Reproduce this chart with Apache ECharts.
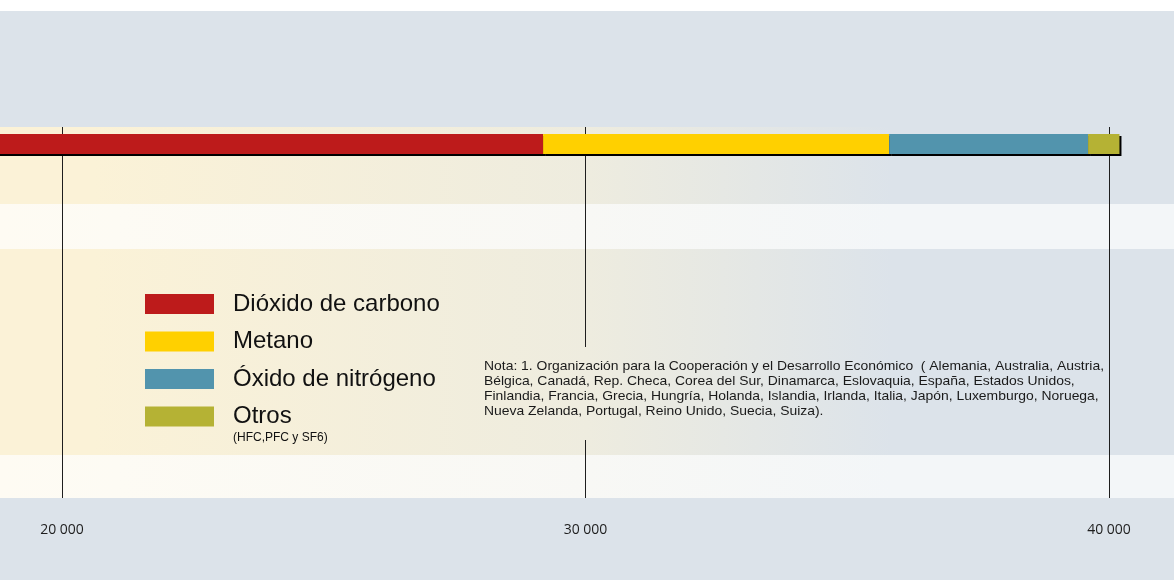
<!DOCTYPE html>
<html>
<head>
<meta charset="utf-8">
<script src="https://cdn.jsdelivr.net/npm/echarts@6/dist/echarts.min.js"></script>
<style>
  html, body { margin: 0; padding: 0; background: #fff; }
  #chart { width: 1174px; height: 580px; }
</style>
</head>
<body>
<div id="chart"></div>
<script>
// emisiones por gas (OCDE)
const categories = ['OCDE']
const seriesNames = ['Dióxido de carbono', 'Metano', 'Óxido de nitrógeno', 'Otros']
const dioxido = [29190]
const metano = [6610]
const oxido = [3800]
const otros = [600]
const colors = ['#bd1b1b', '#ffd000', '#5294ad', '#b5b234']
const axisMin = 10000
const axisMax = 50000
const tickStep = 10000

const nota = [
  'Nota: 1. Organización para la Cooperación y el Desarrollo Económico  ( Alemania, Australia, Austria,',
  'Bélgica, Canadá, Rep. Checa, Corea del Sur, Dinamarca, Eslovaquia, España, Estados Unidos,',
  'Finlandia, Francia, Grecia, Hungría, Holanda, Islandia, Irlanda, Italia, Japón, Luxemburgo, Noruega,',
  'Nueva Zelanda, Portugal, Reino Unido, Suecia, Suiza).'
].join('\n')

const bgBlue = '#dce3ea'
// gradiente horizontal en coordenadas globales (para que la caja de la nota empalme)
const grad = stops => new echarts.graphic.LinearGradient(0, 0, 1174, 0,
  stops.map(s => ({ offset: s[0], color: s[1] })), true)
const creamStops = [[0, '#fbf2d7'], [0.08, '#fbf2d7'], [0.5, '#eeecdf'], [0.76, bgBlue], [1, bgBlue]]
const lightStops = [[0, '#fefbf3'], [0.1, '#fdfbf4'], [0.5, '#f8f8f5'], [0.76, '#f3f6f8'], [1, '#f3f6f8']]
const band = (x, top, w, h, stops, z) => ({
  type: 'rect', silent: true, z: z,
  shape: { x: x, y: top, width: w, height: h },
  style: { fill: grad(stops) }
})

const chart = echarts.init(document.getElementById('chart'))

const gridLeft = -461.5
const gridWidth = 2094

const option = {
  animation: false,
  textStyle: { fontFamily: 'Liberation Sans' },
  graphic: [
    { type: 'rect', silent: true, z: -10, shape: { x: 0, y: 11, width: 1174, height: 569 }, style: { fill: bgBlue } },
    band(0, 127, 1174, 77, creamStops, -10),
    band(0, 204, 1174, 45, lightStops, -10),
    band(0, 249, 1174, 206, creamStops, -10),
    band(0, 455, 1174, 43, lightStops, -10),
    // caja detras de la nota, tapa la linea de 30 000
    band(478, 347, 626, 93, creamStops, 1),
    {
      type: 'text', left: 233, top: 432, z: 2,
      style: { text: '(HFC,PFC y SF6)', fontSize: 12, fill: '#111', fontFamily: 'Liberation Sans' }
    },
    {
      type: 'text', x: 484, y: 359, scaleX: 1.07, z: 2,
      style: { text: nota, fontSize: 13, lineHeight: 15, fill: '#1a1a1a', fontFamily: 'Liberation Sans' }
    }
  ],
  legend: {
    orient: 'vertical',
    left: 145,
    top: 292,
    padding: 0,
    itemWidth: 69,
    itemHeight: 20,
    itemGap: 13.5,
    icon: 'rect',
    data: seriesNames,
    textStyle: { fontSize: 24, color: '#111', lineHeight: 20, padding: [0, 0, 0, 14], fontFamily: 'Liberation Sans' }
  },
  grid: [
    { left: gridLeft, width: gridWidth, top: 127, bottom: 82, outerBoundsMode: 'none', containLabel: false },
    { left: gridLeft, width: gridWidth, top: 134, height: 20, outerBoundsMode: 'none', containLabel: false }
  ],
  xAxis: [
    {
      gridIndex: 0, type: 'value', min: axisMin, max: axisMax, interval: tickStep,
      axisLine: { show: false }, axisTick: { show: false },
      splitLine: { show: true, lineStyle: { color: '#1e1e1e', width: 1 } },
      axisLabel: {
        margin: 25, fontSize: 14, color: '#1e1e1e', fontFamily: 'Open Sans',
        formatter: v => String(v).replace(/\B(?=(\d{3})+(?!\d))/g, ' ')
      }
    },
    {
      gridIndex: 1, type: 'value', min: axisMin, max: axisMax,
      show: false, splitLine: { show: false }
    }
  ],
  yAxis: [
    { gridIndex: 0, type: 'category', data: categories, show: false },
    { gridIndex: 1, type: 'category', data: categories, show: false }
  ],
  series: [dioxido, metano, oxido, otros].map((d, i) => ({
    name: seriesNames[i],
    type: 'bar',
    stack: 'total',
    xAxisIndex: 1,
    yAxisIndex: 1,
    barWidth: 20,
    data: d,
    itemStyle: {
      color: colors[i],
      shadowColor: '#000',
      shadowOffsetX: 2,
      shadowOffsetY: 2,
      shadowBlur: 0
    }
  }))
}

chart.setOption(option)
</script>
</body>
</html>
